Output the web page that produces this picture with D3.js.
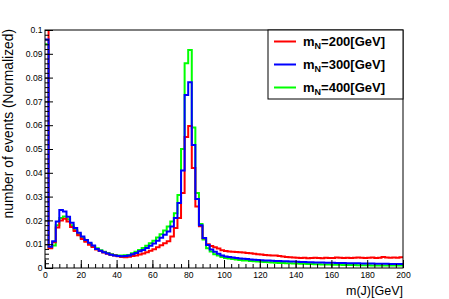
<!DOCTYPE html>
<html><head><meta charset="utf-8">
<script src="https://cdn.jsdelivr.net/npm/d3@7"></script>
<style>
html,body{margin:0;padding:0;background:#fff;}
svg{display:block;}
text{font-family:"Liberation Sans",Arial,sans-serif;}
</style></head>
<body>
<script>
// ---- data (2 GeV bins from 0 to 200 GeV) ----
const binWidth = 2;
const xTickLabels = [0,20,40,60,80,100,120,140,160,180,200];
const yTickLabels = [0,0.01,0.02,0.03,0.04,0.05,0.06,0.07,0.08,0.09,0.1];
const seriesNames = ["200","300","400"];
const seriesColors = ["#ff0000","#0000ff","#00ff00"];

const mN200 = [
 0.1050,0.0083,0.0108,0.0170,0.0200,0.0207,0.0195,0.0172,0.0155,0.0138,
 0.0122,0.0110,0.0098,0.0088,0.0078,0.0071,0.0065,0.0060,0.0056,0.0052,
 0.0049,0.0046,0.0045,0.0047,0.0050,0.0053,0.0057,0.0061,0.0066,0.0072,
 0.0079,0.0087,0.0096,0.0104,0.0112,0.0132,0.0168,0.0210,0.0315,0.0550,
 0.0597,0.0420,0.0258,0.0175,0.0125,0.0100,0.0092,0.0087,0.0082,0.0075,
 0.0071,0.0069,0.0068,0.0067,0.0066,0.0065,0.0063,0.0062,0.0060,0.0058,
 0.0057,0.0055,0.0054,0.0053,0.0052,0.0050,0.0048,0.0046,0.0045,0.0044,
 0.0043,0.0042,0.0043,0.0041,0.0042,0.0043,0.0042,0.0041,0.0043,0.0042,
 0.0042,0.0044,0.0043,0.0042,0.0043,0.0042,0.0043,0.0044,0.0043,0.0042,
 0.0043,0.0044,0.0042,0.0043,0.0046,0.0044,0.0043,0.0044,0.0043,0.0045];

const mN300 = [
 0.0960,0.0089,0.0112,0.0195,0.0244,0.0237,0.0215,0.0190,0.0168,0.0148,
 0.0132,0.0118,0.0106,0.0095,0.0080,0.0072,0.0066,0.0061,0.0056,0.0053,
 0.0050,0.0049,0.0050,0.0053,0.0058,0.0063,0.0070,0.0076,0.0084,0.0093,
 0.0103,0.0115,0.0127,0.0140,0.0153,0.0174,0.0210,0.0273,0.0410,0.0727,
 0.0780,0.0517,0.0290,0.0180,0.0126,0.0097,0.0078,0.0068,0.0060,0.0052,
 0.0048,0.0046,0.0044,0.0042,0.0040,0.0039,0.0038,0.0036,0.0035,0.0034,
 0.0033,0.0032,0.0031,0.0030,0.0029,0.0029,0.0028,0.0028,0.0027,0.0027,
 0.0026,0.0025,0.0025,0.0024,0.0024,0.0023,0.0023,0.0023,0.0022,0.0022,
 0.0022,0.0021,0.0021,0.0021,0.0020,0.0020,0.0020,0.0020,0.0019,0.0019,
 0.0019,0.0019,0.0018,0.0018,0.0018,0.0018,0.0017,0.0017,0.0017,0.0017];

const mN400 = [
 0.0940,0.0085,0.0095,0.0180,0.0210,0.0216,0.0205,0.0180,0.0160,0.0142,
 0.0126,0.0113,0.0102,0.0092,0.0083,0.0075,0.0068,0.0063,0.0058,0.0055,
 0.0053,0.0053,0.0054,0.0055,0.0062,0.0068,0.0076,0.0084,0.0094,0.0104,
 0.0115,0.0128,0.0142,0.0158,0.0174,0.0195,0.0230,0.0307,0.0500,0.0860,
 0.0916,0.0590,0.0315,0.0185,0.0120,0.0083,0.0069,0.0058,0.0052,0.0046,
 0.0042,0.0040,0.0038,0.0036,0.0034,0.0032,0.0031,0.0029,0.0028,0.0027,
 0.0026,0.0025,0.0024,0.0023,0.0022,0.0021,0.0021,0.0020,0.0020,0.0019,
 0.0019,0.0018,0.0018,0.0017,0.0017,0.0016,0.0016,0.0015,0.0015,0.0015,
 0.0014,0.0014,0.0014,0.0013,0.0013,0.0013,0.0013,0.0012,0.0012,0.0012,
 0.0012,0.0011,0.0011,0.0011,0.0011,0.0011,0.0010,0.0010,0.0010,0.0010];

// ---- layout ----
const W = 449, H = 299;
const L = 45, R = 403, T = 30, B = 268;

const svg = d3.select("body").append("svg").attr("width", W).attr("height", H);
svg.append("rect").attr("width", W).attr("height", H).attr("fill", "#fff");

const x = d3.scaleLinear().domain([0, 200]).range([L, R]);
const y = d3.scaleLinear().domain([0, 0.1]).range([B, T]);

svg.append("defs").append("clipPath").attr("id", "clip")
  .append("rect").attr("x", L).attr("y", T).attr("width", R - L).attr("height", B - T);

// ---- histograms ----
function stepPath(vals) {
  let p = "";
  vals.forEach((v, i) => {
    const x0 = x(i * binWidth), x1 = x((i + 1) * binWidth), yy = y(v);
    p += (i === 0 ? "M" : "L") + x0 + "," + yy + "L" + x1 + "," + yy;
  });
  return p;
}
const allSeries = [mN200, mN300, mN400];
const drawOrder = [2, 0, 1];
const g = svg.append("g").attr("clip-path", "url(#clip)");
drawOrder.forEach(k => {
  g.append("path").attr("d", stepPath(allSeries[k]))
    .attr("fill", "none").attr("stroke", seriesColors[k])
    .attr("stroke-width", 2).attr("stroke-linejoin", "miter");
});

// ---- axes ----
const xMinor = d3.range(0, 201, 4);
const yMinor = d3.range(0, 51).map(i => i * 0.002);

svg.append("g").attr("transform", `translate(0,${B})`)
  .call(d3.axisBottom(x).tickValues(xMinor).tickSize(-4).tickFormat(""))
  .call(a => a.select(".domain").remove());
svg.append("g").attr("transform", `translate(0,${B})`)
  .call(d3.axisBottom(x).tickValues(xTickLabels).tickSize(-8).tickPadding(4).tickFormat(d3.format("d")))
  .call(a => a.select(".domain").remove())
  .call(a => a.selectAll("text").attr("font-size", 8.6).attr("font-family", "Liberation Sans, Arial, sans-serif").attr("fill", "#000"));

svg.append("g").attr("transform", `translate(${L},0)`)
  .call(d3.axisLeft(y).tickValues(yMinor).tickSize(-4).tickFormat(""))
  .call(a => a.select(".domain").remove());
svg.append("g").attr("transform", `translate(${L},0)`)
  .call(d3.axisLeft(y).tickValues(yTickLabels).tickSize(-8).tickPadding(2.5).tickFormat(d => String(+d.toFixed(2))))
  .call(a => a.select(".domain").remove())
  .call(a => a.selectAll("text").attr("font-size", 8.6).attr("font-family", "Liberation Sans, Arial, sans-serif").attr("fill", "#000"));

svg.selectAll(".tick line").attr("stroke", "#000").attr("stroke-width", 1);

// frame
svg.append("rect").attr("x", L).attr("y", T).attr("width", R - L).attr("height", B - T)
  .attr("fill", "none").attr("stroke", "#000").attr("stroke-width", 1);

// axis titles
svg.append("text").attr("x", R).attr("y", 295).attr("text-anchor", "end")
  .attr("font-size", 12.5).text("m(J)[GeV]");
svg.append("text").attr("transform", `translate(13,${T - 1}) rotate(-90)`)
  .attr("text-anchor", "end").attr("font-size", 13.8).text("number of events (Normalized)");

// ---- legend ----
const lg = svg.append("g");
const LX0 = 268, LX1 = 403, LY0 = 30, LY1 = 99;
lg.append("rect").attr("x", LX0).attr("y", LY0).attr("width", LX1 - LX0).attr("height", LY1 - LY0)
  .attr("fill", "#fff").attr("stroke", "#000").attr("stroke-width", 1);
const rowH = (LY1 - LY0) / seriesNames.length;
seriesNames.forEach((name, i) => {
  const cy = LY0 + rowH * (i + 0.5);
  lg.append("line").attr("x1", 274).attr("x2", 296).attr("y1", cy).attr("y2", cy)
    .attr("stroke", seriesColors[i]).attr("stroke-width", 2);
  const t = lg.append("text").attr("x", 303).attr("y", cy + 4.5)
    .attr("font-family", "Liberation Serif, Times New Roman, serif")
    .attr("font-weight", "bold").attr("font-size", 13);
  t.append("tspan").text("m");
  t.append("tspan").attr("font-size", 9).attr("dy", 3).text("N");
  t.append("tspan").attr("dy", -3).text("=" + name + "[GeV]");
});
</script>
</body></html>
